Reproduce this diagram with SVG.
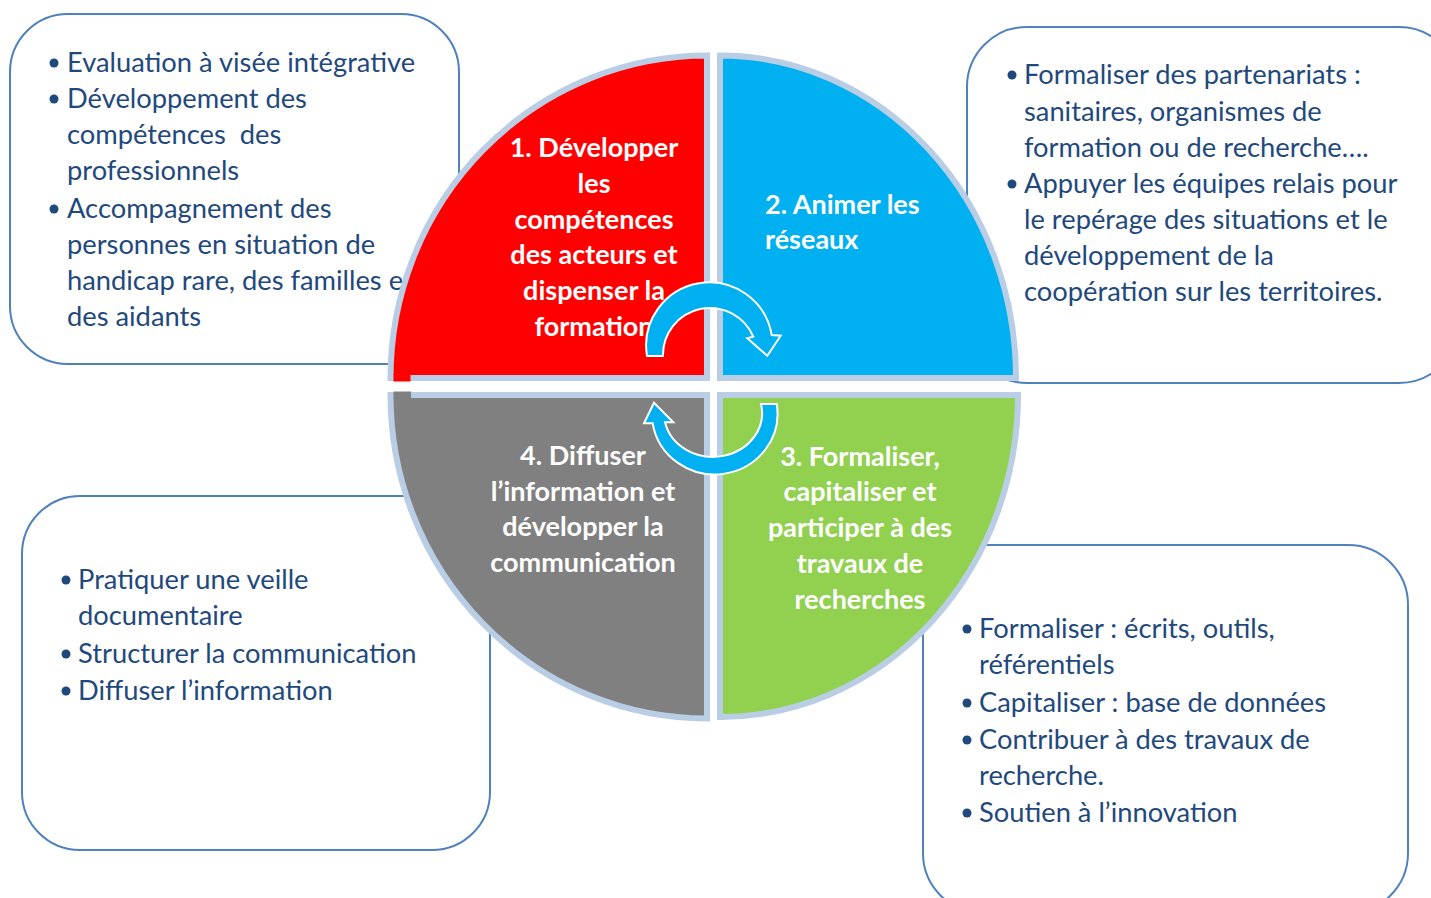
<svg xmlns="http://www.w3.org/2000/svg" width="1431" height="898" viewBox="0 0 1431 898">
<defs>
<style>
.box{fill:#FFFFFF;stroke:#4F81BD;stroke-width:2}
.t{font-family:Lato,"Open Sans","Liberation Sans",sans-serif;font-size:27.3px;fill:#1F497D}
.b{fill:#1F497D}
.q{stroke:#B9CDE5;stroke-width:6}
.qt{font-family:Lato,"Open Sans","Liberation Sans",sans-serif;font-size:27px;font-weight:bold;fill:#FFFFFF;text-anchor:middle}
.arrow{fill:#00B0F0;stroke:#FFFFFF;stroke-width:2;stroke-linejoin:miter}
</style>
</defs>
<rect width="1431" height="898" fill="#FFFFFF"/>

<g id="box-top-left">
<rect class="box" x="10" y="14" width="449" height="350" rx="58"/>
<circle class="b" cx="54" cy="63" r="4.5"/>
<text class="t" x="67" y="72">Evaluation à visée intégrative</text>
<circle class="b" cx="54" cy="99" r="4.5"/>
<text class="t" x="67" y="108">Développement des</text>
<text class="t" x="67" y="144" xml:space="preserve">compétences  des</text>
<text class="t" x="67" y="180">professionnels</text>
<circle class="b" cx="54" cy="209" r="4.5"/>
<text class="t" x="67" y="218">Accompagnement des</text>
<text class="t" x="67" y="254">personnes en situation de</text>
<text class="t" x="67" y="290">handicap rare, des familles et</text>
<text class="t" x="67" y="326">des aidants</text>
</g>

<g id="box-top-right">
<rect class="box" x="967" y="27" width="492" height="356" rx="60"/>
<circle class="b" cx="1012" cy="75" r="4.5"/>
<text class="t" x="1024" y="84">Formaliser des partenariats :</text>
<text class="t" x="1024" y="121">sanitaires, organismes de</text>
<text class="t" x="1024" y="157">formation ou de recherche….</text>
<circle class="b" cx="1012" cy="184" r="4.5"/>
<text class="t" x="1024" y="193">Appuyer les équipes relais pour</text>
<text class="t" x="1024" y="229">le repérage des situations et le</text>
<text class="t" x="1024" y="265">développement de la</text>
<text class="t" x="1024" y="301">coopération sur les territoires.</text>
</g>

<g id="box-bottom-left">
<rect class="box" x="22" y="496" width="468" height="354" rx="58"/>
<circle class="b" cx="66" cy="580" r="4.5"/>
<text class="t" x="78" y="589">Pratiquer une veille</text>
<text class="t" x="78" y="625">documentaire</text>
<circle class="b" cx="66" cy="654" r="4.5"/>
<text class="t" x="78" y="663">Structurer la communication</text>
<circle class="b" cx="66" cy="691" r="4.5"/>
<text class="t" x="78" y="700">Diffuser l’information</text>
</g>

<g id="box-bottom-right">
<rect class="box" x="923" y="545" width="485" height="368" rx="60"/>
<circle class="b" cx="967" cy="629" r="4.5"/>
<text class="t" x="979" y="638">Formaliser : écrits, outils,</text>
<text class="t" x="979" y="674">référentiels</text>
<circle class="b" cx="967" cy="703" r="4.5"/>
<text class="t" x="979" y="712">Capitaliser : base de données</text>
<circle class="b" cx="967" cy="740" r="4.5"/>
<text class="t" x="979" y="749">Contribuer à des travaux de</text>
<text class="t" x="979" y="785">recherche.</text>
<circle class="b" cx="967" cy="813" r="4.5"/>
<text class="t" x="979" y="822">Soutien à l’innovation</text>
</g>

<g id="quadrant-1">
<path class="q" fill="#FF0000" d="M707,378 L390.5,378 A316.5,322.5 0 0 1 707,55.5 Z"/>
<rect x="393.5" y="374" width="17" height="7.5" fill="#FF0000"/>
<text class="qt" x="594" y="157">1. Développer</text>
<text class="qt" x="594" y="193">les</text>
<text class="qt" x="594" y="229">compétences</text>
<text class="qt" x="594" y="264">des acteurs et</text>
<text class="qt" x="594" y="300">dispenser la</text>
<text class="qt" x="594" y="336">formation</text>
</g>

<g id="quadrant-2">
<path class="q" fill="#00B0F0" d="M720,378 L720,55.5 A296,322.5 0 0 1 1016,378 Z"/>
<text class="qt" x="765" y="214" style="text-anchor:start">2. Animer les</text>
<text class="qt" x="765" y="249" style="text-anchor:start">réseaux</text>
</g>

<g id="quadrant-3">
<path class="q" fill="#92D050" d="M720,395 L1018,395 A298,322 0 0 1 720,717 Z"/>
<text class="qt" x="860" y="466">3. Formaliser,</text>
<text class="qt" x="860" y="501">capitaliser et</text>
<text class="qt" x="860" y="537">participer à des</text>
<text class="qt" x="860" y="573">travaux de</text>
<text class="qt" x="860" y="609">recherches</text>
</g>

<g id="quadrant-4">
<path class="q" fill="#808080" d="M707,395 L390.5,395 A316.5,323.5 0 0 0 707,718.5 Z"/>
<rect x="393.5" y="391.5" width="17.5" height="7.5" fill="#808080"/>
<text class="qt" x="583" y="465">4. Diffuser</text>
<text class="qt" x="583" y="501">l’information et</text>
<text class="qt" x="583" y="536">développer la</text>
<text class="qt" x="583" y="572">communication</text>
</g>

<g id="connectors">
<path class="arrow" d="M647,356 A63,63 0 0 1 771.7,335 L780.7,335.7 L767.3,355.7 L747.3,338.3 L753.3,336.7 A47,47 0 0 0 663,356 Z"/>
<path class="arrow" d="M776.7,404 A61,59 0 0 1 652.7,423.3 L644,423.3 L654,402.7 L673.3,422.3 L665,422.3 A46,41 0 0 0 761,404 Z"/>
</g>
</svg>
